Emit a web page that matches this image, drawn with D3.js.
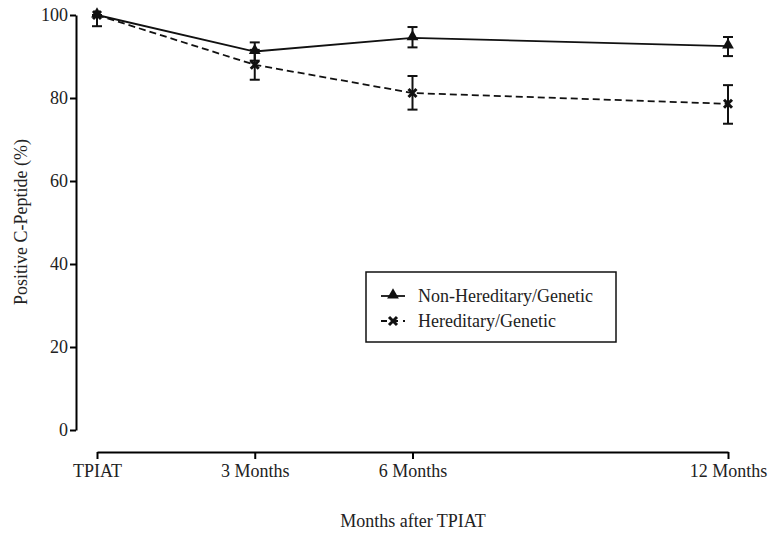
<!DOCTYPE html>
<html>
<head>
<meta charset="utf-8">
<script src="https://cdn.jsdelivr.net/npm/d3@7"></script>
<style>
  body { margin: 0; background: #fff; }
  svg { display: block; }
  text { font-family: "Liberation Serif", "DejaVu Serif", serif; }
</style>
</head>
<body>
<svg id="chart" width="773" height="533"></svg>
<script>
// data
const months = [0, 3, 6, 12];
const monthLabels = ["TPIAT", "3 Months", "6 Months", "12 Months"];
const yTicks = [0, 20, 40, 60, 80, 100];

const nonHerMean = [100, 91.2, 94.5, 92.5];
const nonHerLow = [100, 89.0, 92.2, 90.1];
const nonHerHigh = [100, 93.4, 97.1, 94.7];

const herMean = [100, 88.0, 81.2, 78.6];
const herLow = [97.3, 84.4, 77.2, 73.8];
const herHigh = [100, 91.6, 85.3, 83.1];

const svg = d3.select("#chart");
const font = "'Liberation Serif', 'DejaVu Serif', serif";

const x = d3.scaleLinear().domain([0, 12]).range([97, 728]);
const y = d3.scaleLinear().domain([0, 100]).range([430, 15]);

// y axis
const yAxis = svg.append("g")
    .attr("transform", "translate(76,0)")
    .call(d3.axisLeft(y).tickValues(yTicks).tickSize(6).tickPadding(2).tickSizeOuter(0))
    .attr("font-family", font);
yAxis.select(".domain").attr("stroke-width", 2);
yAxis.selectAll(".tick line").attr("stroke-width", 2);
yAxis.selectAll("text").style("font-size", "18px").attr("fill", "#222");

// x axis (detached below)
const xAxis = svg.append("g")
    .attr("transform", "translate(0,452)")
    .call(d3.axisBottom(x).tickValues(months).tickFormat((d, i) => monthLabels[i]).tickSize(7).tickPadding(5).tickSizeOuter(0))
    .attr("font-family", font);
xAxis.select(".domain").attr("stroke-width", 2);
xAxis.selectAll(".tick line").attr("stroke-width", 2);
xAxis.selectAll("text").style("font-size", "18px").attr("fill", "#222");

// axis titles
svg.append("text")
    .attr("transform", "translate(27,222) rotate(-90)")
    .attr("text-anchor", "middle")
    .style("font-size", "18px")
    .attr("fill", "#222")
    .text("Positive C-Peptide (%)");

svg.append("text")
    .attr("x", 413).attr("y", 527)
    .attr("text-anchor", "middle")
    .style("font-size", "18px")
    .attr("fill", "#222")
    .text("Months after TPIAT");

const series = [
    { mean: nonHerMean, low: nonHerLow, high: nonHerHigh, dash: null, marker: "tri" },
    { mean: herMean, low: herLow, high: herHigh, dash: "7,4", marker: "cross" }
];

const line = d3.line().x(d => x(d[0])).y(d => y(d[1]));
const triPath = d3.symbol().type(d3.symbolTriangle).size(60);

function drawMarker(g, type, cx, cy) {
    if (type === "tri") {
        g.append("path").attr("d", triPath()).attr("transform", `translate(${cx},${cy - 1})`).attr("fill", "#111");
    } else {
        g.append("path")
            .attr("d", "M-4,-4L4,4M-4,4L4,-4")
            .attr("transform", `translate(${cx},${cy})`)
            .attr("stroke", "#111").attr("stroke-width", 3);
    }
}

series.forEach(s => {
    const g = svg.append("g");
    const pts = months.map((m, i) => [m, s.mean[i]]);
    g.append("path")
        .attr("d", line(pts))
        .attr("fill", "none")
        .attr("stroke", "#111")
        .attr("stroke-width", 1.8)
        .attr("stroke-dasharray", s.dash);

    months.forEach((m, i) => {
        if (s.high[i] - s.low[i] > 0.5) {
            const cx = x(m);
            g.append("line").attr("x1", cx).attr("x2", cx).attr("y1", y(s.low[i])).attr("y2", y(s.high[i]))
                .attr("stroke", "#111").attr("stroke-width", 2);
            [s.low[i], s.high[i]].forEach(v => {
                g.append("line").attr("x1", cx - 5).attr("x2", cx + 5).attr("y1", y(v)).attr("y2", y(v))
                    .attr("stroke", "#111").attr("stroke-width", 2);
            });
        }
        drawMarker(g, s.marker, x(m), y(s.mean[i]));
    });
});

// legend
const legend = svg.append("g").attr("transform", "translate(366,272)");
legend.append("rect").attr("width", 250).attr("height", 70)
    .attr("fill", "#fff").attr("stroke", "#111").attr("stroke-width", 1.5);

const legendItems = [
    { label: "Non-Hereditary/Genetic", dash: null, marker: "tri" },
    { label: "Hereditary/Genetic", dash: "6,5", marker: "cross" }
];
legendItems.forEach((d, i) => {
    const ly = 24 + i * 25;
    legend.append("line").attr("x1", 15).attr("x2", 39).attr("y1", ly).attr("y2", ly)
        .attr("stroke", "#111").attr("stroke-width", 1.8).attr("stroke-dasharray", d.dash);
    drawMarker(legend, d.marker, 27, ly);
    legend.append("text").attr("x", 52).attr("y", ly + 6)
        .style("font-size", "18px").attr("fill", "#222").text(d.label);
});
</script>
</body>
</html>
